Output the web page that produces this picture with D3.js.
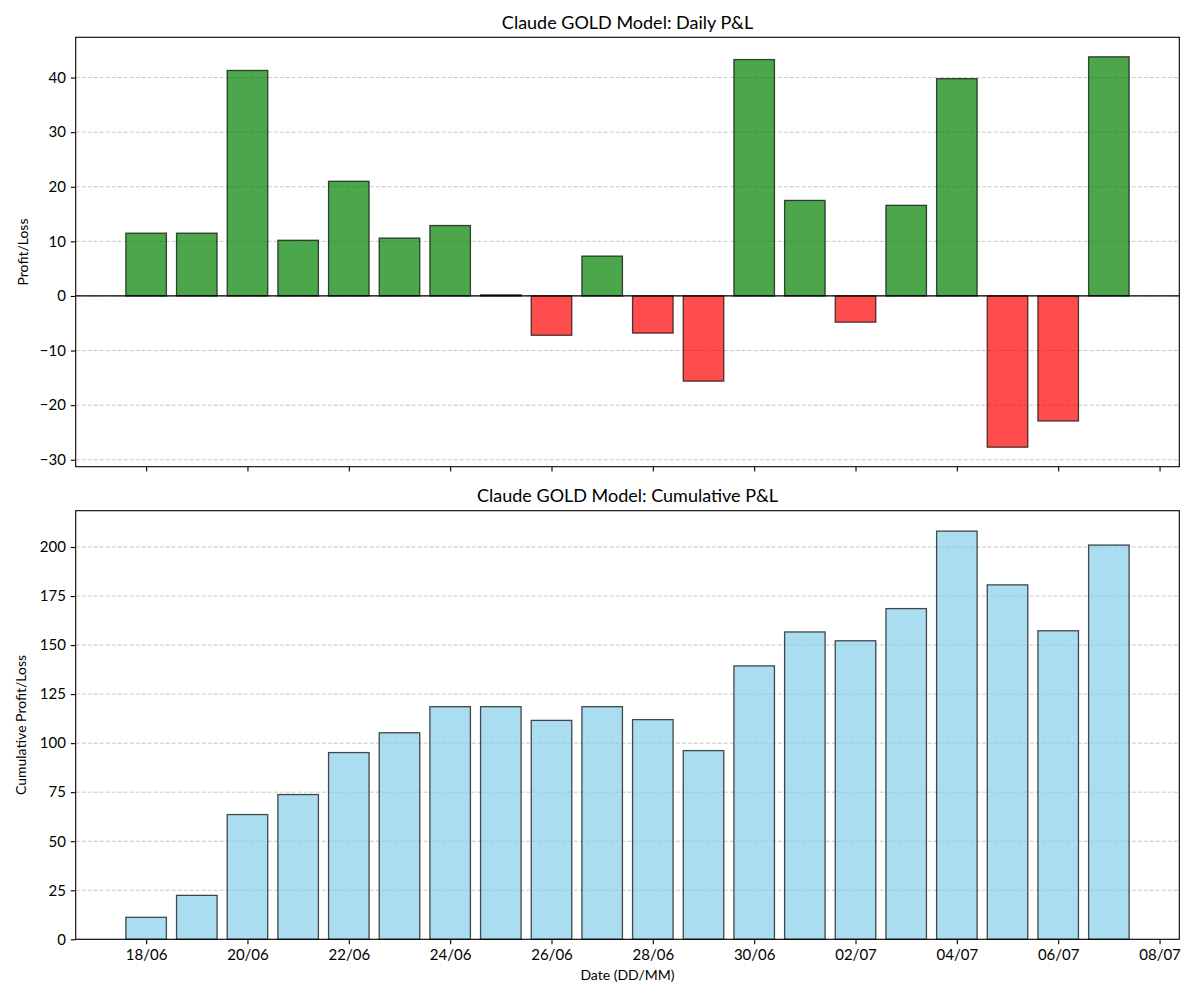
<!DOCTYPE html>
<html>
<head>
<meta charset="utf-8">
<script src="https://cdn.jsdelivr.net/npm/d3@7"></script>
<style>
  body { margin: 0; background: #fff; }
  svg text { font-family: Lato, Inter, "Noto Sans", sans-serif; fill: #000; }
</style>
</head>
<body>
<div id="chart"></div>
<script>
// data
const dates = ["2025-06-18", "2025-06-19", "2025-06-20", "2025-06-21", "2025-06-22",
    "2025-06-23", "2025-06-24", "2025-06-25", "2025-06-26", "2025-06-27",
    "2025-06-28", "2025-06-29", "2025-06-30", "2025-07-01", "2025-07-02",
    "2025-07-03", "2025-07-04", "2025-07-05", "2025-07-06", "2025-07-07"];
const dailyPnl = [11.5, 11.5, 41.3, 10.2, 21.0, 10.6, 12.9, 0.2, -7.2, 7.3,
    -6.8, -15.6, 43.3, 17.5, -4.8, 16.6, 39.8, -27.7, -22.9, 43.8];
const cumulativePnl = [11.2, 22.4, 63.6, 73.8, 95.2, 105.3, 118.6, 118.6, 111.6, 118.6,
    112.0, 96.2, 139.4, 156.7, 152.2, 168.6, 208.1, 180.7, 157.3, 201.0];
const dailyTicks = [-30, -20, -10, 0, 10, 20, 30, 40];
const cumTicks = [0, 25, 50, 75, 100, 125, 150, 175, 200];
const xTickStart = "2025-06-18", xTickEnd = "2025-07-09";

const W = 1200, H = 1000;
const left = 75.7, right = 1179.3;
const panels = [
    { top: 37.3, bottom: 466.7, title: "Claude GOLD Model: Daily P&L", ylabel: "Profit/Loss", ylabelX: 23 },
    { top: 510.7, bottom: 939.3, title: "Claude GOLD Model: Cumulative P&L", ylabel: "Cumulative Profit/Loss", ylabelX: 21 }
];

const parse = d3.timeParse("%Y-%m-%d");
const days = dates.map(parse);
const DAY = 864e5;

const svg = d3.select("#chart").append("svg")
    .attr("width", W).attr("height", H);

// matplotlib style x range: bars +-0.4 day, then 5% margin
const x0 = +days[0] - 0.4 * DAY, x1 = +days[days.length - 1] + 0.4 * DAY;
const xm = (x1 - x0) * 0.05;
const x = d3.scaleTime().domain([new Date(x0 - xm), new Date(x1 + xm)]).range([left, right]);
const barW = x(new Date(+days[0] + 0.8 * DAY)) - x(days[0]);
const xTicks = d3.timeDay.range(parse(xTickStart), parse(xTickEnd), 2);

function drawPanel(p, values, yTicks, yDomain, colorFn, showXLabels) {
    const y = d3.scaleLinear().domain(yDomain).range([p.bottom, p.top]);
    const g = svg.append("g");

    // grid
    g.append("g").selectAll("line")
        .data(yTicks)
        .join("line")
        .attr("x1", left).attr("x2", right)
        .attr("y1", d => y(d)).attr("y2", d => y(d))
        .attr("stroke", "#b0b0b0")
        .attr("stroke-opacity", 0.7)
        .attr("stroke-width", 1)
        .attr("stroke-dasharray", "4,2");

    // bars
    g.append("g").selectAll("rect")
        .data(values)
        .join("rect")
        .attr("x", (d, i) => x(days[i]) - barW / 2)
        .attr("width", barW)
        .attr("y", d => y(Math.max(0, d)))
        .attr("height", d => Math.abs(y(d) - y(0)))
        .attr("fill", colorFn)
        .attr("fill-opacity", 0.7)
        .attr("stroke", "#000")
        .attr("stroke-opacity", 0.7)
        .attr("stroke-width", 1.3);

    if (yDomain[0] < 0) {
        g.append("line")
            .attr("x1", left).attr("x2", right)
            .attr("y1", y(0)).attr("y2", y(0))
            .attr("stroke", "#000")
            .attr("stroke-width", 1.3);
    }

    // axes
    const ya = g.append("g")
        .attr("transform", `translate(${left},0)`)
        .call(d3.axisLeft(y).tickValues(yTicks).tickSize(4.9).tickPadding(4.9).tickFormat(d3.format("d")));
    const xa = g.append("g")
        .attr("transform", `translate(0,${p.bottom})`)
        .call(d3.axisBottom(x).tickValues(xTicks).tickSize(4.9).tickPadding(4.9)
            .tickFormat(showXLabels ? d3.timeFormat("%d/%m") : () => ""));
    [ya, xa].forEach(a => {
        a.select(".domain").remove();
        a.selectAll(".tick line").attr("stroke", "#000").attr("stroke-width", 1.1);
        a.selectAll(".tick text").style("font-size", "15px")
            .style("font-family", "Lato, Inter, 'Noto Sans', sans-serif");
    });

    // frame
    g.append("rect")
        .attr("x", left).attr("y", p.top)
        .attr("width", right - left).attr("height", p.bottom - p.top)
        .attr("fill", "none").attr("stroke", "#000").attr("stroke-width", 1.1);

    g.append("text")
        .attr("x", (left + right) / 2).attr("y", p.top - 8.3)
        .attr("text-anchor", "middle")
        .style("font-size", "18px")
        .text(p.title);

    g.append("text")
        .attr("transform", `translate(${p.ylabelX},${(p.top + p.bottom) / 2}) rotate(-90)`)
        .attr("text-anchor", "middle")
        .attr("dy", "0.35em")
        .style("font-size", "14px")
        .text(p.ylabel);
}

function pad(lo, hi) {
    const m = (hi - lo) * 0.05;
    return [lo - m, hi + m];
}

drawPanel(panels[0], dailyPnl, dailyTicks, pad(d3.min(dailyPnl), d3.max(dailyPnl)),
    d => d >= 0 ? "green" : "red", false);

const cumTop = d3.max(cumulativePnl) * 1.05;
drawPanel(panels[1], cumulativePnl, cumTicks, [0, cumTop], () => "skyblue", true);

svg.append("text")
    .attr("x", (left + right) / 2).attr("y", 980)
    .attr("text-anchor", "middle")
    .style("font-size", "14px")
    .text("Date (DD/MM)");
</script>
</body>
</html>
